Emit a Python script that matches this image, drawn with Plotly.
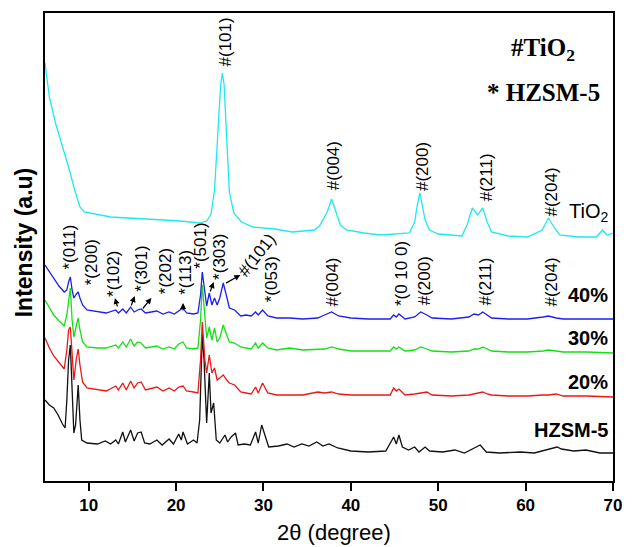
import plotly.graph_objects as go

# ---------------- data (2θ in degrees, intensity in arbitrary units) ----------------
tio2_x = [5.0, 5.5, 6.2, 6.9, 7.7, 8.4, 9.0, 9.5, 10.7, 12.5,
          14.5, 16.5, 18.2, 20.5, 22.7, 23.5, 24.0, 24.4, 24.8, 25.1,
          25.3, 25.5, 25.8, 26.1, 26.6, 27.5, 28.8, 31.3, 33.3, 35.8,
          36.4, 36.8, 37.3, 37.8, 38.3, 38.8, 39.5, 41.5, 43.4, 46.7,
          47.3, 47.6, 47.9, 48.2, 48.5, 49.0, 50.0, 52.7, 53.3, 53.9,
          54.5, 55.1, 55.6, 56.1, 58.0, 60.2, 61.9, 62.6, 63.3, 63.9,
          66.0, 68.1, 68.8, 69.3, 70.0]
tio2_y = [421, 387, 361, 341, 317, 294, 277, 272, 270, 267,
          266, 265, 264, 263, 261, 263, 270, 294, 354, 399,
          411, 399, 344, 292, 271, 262, 257, 255, 252, 254,
          258, 264, 272, 285, 272, 259, 254, 251, 249, 251,
          262, 279, 291, 279, 264, 254, 250, 248, 259, 276,
          269, 276, 262, 252, 248, 247, 254, 266, 256, 249,
          247, 247, 254, 249, 251]

comp_x = [5.0, 5.5, 6.0, 6.6, 7.2, 7.5, 7.7, 7.9, 8.1, 8.3,
          8.6, 8.8, 9.0, 9.3, 9.8, 11.0, 12.0, 13.1, 13.4, 13.9,
          14.3, 14.8, 15.2, 15.6, 16.0, 16.5, 17.8, 18.5, 19.2, 19.8,
          20.3, 20.8, 21.2, 22.0, 22.5, 22.8, 23.0, 23.3, 23.5, 23.8,
          24.1, 24.4, 24.7, 25.0, 25.4, 25.8, 26.1, 26.7, 27.4, 28.0,
          28.6, 29.1, 29.4, 29.9, 30.5, 31.5, 33.0, 34.5, 36.2, 37.0,
          37.8, 38.6, 40.0, 42.0, 44.5, 44.9, 45.2, 45.5, 46.2, 47.3,
          48.0, 48.7, 49.3, 51.5, 53.5, 54.1, 54.6, 55.1, 55.6, 56.1,
          58.0, 60.2, 62.0, 62.6, 63.5, 64.3, 67.0, 70.0]
p40_y = [219, 212, 205, 198, 192, 194, 202, 207, 194, 186,
         190, 192, 186, 179, 174, 172, 171, 174, 171, 175,
         171, 177, 172, 174, 175, 171, 173, 170, 172, 170,
         173, 176, 171, 170, 171, 189, 212, 194, 178, 191,
         179, 186, 179, 186, 201, 187, 176, 174, 168, 169,
         168, 172, 169, 174, 168, 166, 166, 165, 166, 169,
         172, 168, 166, 165, 165, 169, 167, 170, 165, 167,
         172, 169, 166, 165, 167, 170, 169, 172, 169, 166,
         165, 165, 167, 168, 166, 165, 165, 165]
p30_y = [184, 176, 169, 163, 158, 169, 184, 196, 164, 147,
         159, 166, 154, 142, 137, 136, 136, 139, 136, 142,
         137, 145, 138, 142, 141, 136, 138, 135, 137, 135,
         140, 142, 136, 135, 136, 164, 199, 164, 146, 157,
         144, 156, 142, 146, 159, 149, 142, 141, 137, 136,
         135, 141, 136, 141, 136, 134, 136, 134, 135, 135,
         137, 135, 133, 133, 133, 137, 135, 137, 133, 134,
         137, 135, 133, 132, 133, 135, 135, 137, 135, 133,
         132, 132, 133, 134, 133, 132, 132, 131]
p20_y = [146, 136, 128, 121, 115, 134, 154, 157, 124, 104,
         126, 135, 119, 102, 96, 94, 93, 98, 94, 101,
         94, 103, 96, 101, 102, 94, 97, 93, 96, 93,
         97, 98, 93, 92, 91, 124, 162, 124, 111, 129,
         111, 116, 104, 106, 109, 104, 101, 99, 92, 91,
         90, 97, 91, 101, 91, 89, 89, 89, 92, 91,
         92, 90, 89, 89, 89, 96, 93, 95, 89, 90,
         91, 92, 89, 88, 89, 90, 91, 92, 90, 89,
         88, 88, 89, 89, 90, 88, 88, 87]

hzsm_x = [5.0, 5.5, 6.0, 6.5, 7.0, 7.3, 7.5, 7.7, 7.9, 8.1,
          8.3, 8.5, 8.7, 8.8, 9.0, 9.2, 9.8, 11.0, 11.9, 12.5,
          13.1, 13.4, 13.9, 14.2, 14.8, 15.2, 15.6, 16.0, 16.4, 17.0,
          17.8, 18.4, 19.2, 19.7, 20.3, 20.6, 20.8, 21.3, 22.0, 22.4,
          22.7, 23.0, 23.2, 23.5, 23.8, 24.0, 24.3, 24.6, 25.0, 25.6,
          25.9, 26.3, 26.8, 27.1, 27.8, 28.5, 29.1, 29.4, 29.8, 30.2,
          30.6, 31.7, 32.7, 33.5, 34.4, 35.2, 36.1, 36.8, 37.5, 38.5,
          40.0, 42.0, 44.0, 44.9, 45.2, 45.5, 45.9, 46.6, 47.3, 47.8,
          48.5, 49.0, 50.5, 51.9, 53.0, 54.8, 55.5, 57.0, 59.4, 61.0,
          62.4, 63.6, 64.1, 65.5, 66.9, 68.5, 70.0]
hzsm_y = [84, 79, 76, 69, 60, 56, 84, 124, 139, 94,
          51, 59, 89, 99, 64, 44, 41, 40, 43, 40,
          44, 40, 52, 42, 54, 43, 51, 52, 41, 40,
          44, 39, 45, 40, 50, 44, 52, 40, 44, 41,
          64, 149, 124, 61, 111, 71, 81, 44, 41, 49,
          42, 47, 51, 39, 40, 39, 52, 41, 59, 47,
          37, 38, 40, 37, 40, 38, 42, 38, 40, 36,
          33, 32, 33, 47, 40, 49, 37, 34, 37, 32,
          37, 33, 32, 34, 31, 39, 32, 31, 32, 31,
          34, 37, 35, 33, 34, 31, 31]

series_names = ["HZSM-5", "20%", "30%", "40%", "TiO<sub>2</sub>"]

# peak labels: (text, x, y)
tio2_labels = [("#(101)", 25.65, 442), ("#(004)", 37.98, 318), ("#(200)", 48.15, 317),
               ("#(211)", 55.5, 307), ("#(204)", 62.85, 292)]
comp_labels = [("*(011)", 7.69, 237), ("*(200)", 10.3, 222), ("*(102)", 12.78, 210),
               ("*(301)", 15.95, 215), ("*(202)", 18.76, 213), ("*(113)", 21.0, 212),
               ("*(501)", 22.7, 238), ("*(303)", 24.9, 227), ("*(053)", 30.9, 205),
               ("#(004)", 37.8, 202), ("*(0 10 0)", 45.75, 210), ("#(200)", 48.4, 203),
               ("#(211)", 55.4, 203), ("#(204)", 62.85, 202)]
diag_label = ("#(101)", 29.2, 229)
# arrows: (head_x, head_y, tail_x, tail_y)
arrows = [(13.0, 186, 13.34, 176), (15.26, 188, 14.81, 177), (17.18, 186, 16.05, 174),
          (20.8, 181, 20.8, 172), (24.3, 202, 23.85, 191), (27.35, 209, 25.54, 200)]
# curve names: (text, y, bold)
curve_labels = [("TiO<sub>2</sub>", 272, False), ("40%", 189, True), ("30%", 146, True),
                ("20%", 102, True), ("HZSM-5", 54, True)]

colors = {"HZSM-5": "#111111", "20%": "#F01515", "30%": "#12E012",
          "40%": "#1E1EF0", "TiO2": "#1EE8F0"}

SANS = "Arial, Liberation Sans, sans-serif"
SERIF = "Times New Roman, Liberation Serif, serif"

fig = go.Figure()
lw = 1.3
fig.add_trace(go.Scatter(x=hzsm_x, y=hzsm_y, mode="lines", line=dict(color=colors["HZSM-5"], width=lw)))
fig.add_trace(go.Scatter(x=comp_x, y=p20_y, mode="lines", line=dict(color=colors["20%"], width=lw)))
fig.add_trace(go.Scatter(x=comp_x, y=p30_y, mode="lines", line=dict(color=colors["30%"], width=lw)))
fig.add_trace(go.Scatter(x=comp_x, y=p40_y, mode="lines", line=dict(color=colors["40%"], width=lw)))
fig.add_trace(go.Scatter(x=tio2_x, y=tio2_y, mode="lines", line=dict(color=colors["TiO2"], width=lw)))

ann = []
lab_font = dict(family=SANS, size=17, color="black")
for t, x, y in tio2_labels + comp_labels:
    ann.append(dict(text=t, x=x, y=y, xref="x", yref="y", showarrow=False, textangle=-90,
                    xanchor="center", yanchor="middle", font=lab_font))
t, x, y = diag_label
ann.append(dict(text=t, x=x, y=y, xref="x", yref="y", showarrow=False, textangle=-52,
                xanchor="center", yanchor="middle", font=lab_font))
for hx, hy, tx, ty in arrows:
    ann.append(dict(text="", x=hx, y=hy, ax=tx, ay=ty, xref="x", yref="y", axref="x", ayref="y",
                    showarrow=True, arrowhead=2, arrowsize=1, arrowwidth=1.2, arrowcolor="black",
                    standoff=0, startstandoff=0))
for t, y, b in curve_labels:
    ann.append(dict(text=t, x=69.6, y=y, xref="x", yref="y", showarrow=False,
                    xanchor="right", yanchor="middle",
                    font=dict(family=SANS, size=20, color="black", weight="bold" if b else "normal")))
# legend-like text
ann.append(dict(text="#TiO<sub>2</sub>", x=62.04, y=435, xref="x", yref="y", showarrow=False,
                xanchor="center", yanchor="middle",
                font=dict(family=SERIF, size=25, color="black", weight="bold")))
ann.append(dict(text="* HZSM-5", x=62.04, y=392, xref="x", yref="y", showarrow=False,
                xanchor="center", yanchor="middle",
                font=dict(family=SERIF, size=25, color="black", weight="bold")))
# axis titles
ann.append(dict(text="Intensity (a.u)", x=-0.038, y=0.511, xref="paper", yref="paper",
                showarrow=False, textangle=-90, xanchor="center", yanchor="middle",
                font=dict(family=SANS, size=23, color="black", weight="bold")))
ann.append(dict(text="2θ (degree)", x=0.5095, y=-0.109, xref="paper", yref="paper",
                showarrow=False, xanchor="center", yanchor="middle",
                font=dict(family=SANS, size=22, color="black")))

fig.update_layout(
    width=633, height=547,
    margin=dict(l=45, r=11, t=13, b=66),
    paper_bgcolor="white", plot_bgcolor="white",
    showlegend=False,
    annotations=ann,
)
fig.update_xaxes(range=[5, 70], tickvals=[10, 20, 30, 40, 50, 60, 70],
                 ticks="outside", ticklen=8, tickwidth=1.5, tickcolor="black",
                 showline=True, linecolor="black", linewidth=1.5, mirror=True,
                 showgrid=False, zeroline=False,
                 tickfont=dict(family=SANS, size=17, color="black", weight="bold"))
fig.update_yaxes(range=[3, 471], showticklabels=False, ticks="",
                 showline=True, linecolor="black", linewidth=1.5, mirror=True,
                 showgrid=False, zeroline=False)

fig.write_html("out.html")
